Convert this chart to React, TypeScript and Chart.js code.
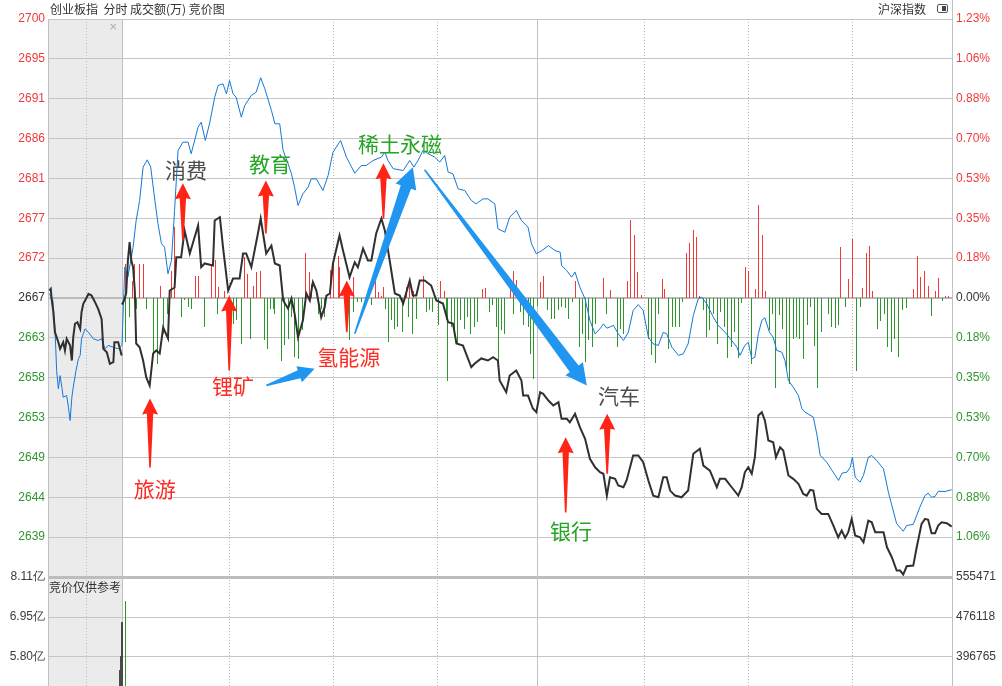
import React, { useEffect, useRef } from 'react';
import { Chart, registerables } from 'chart.js';

Chart.register(...registerables);

// ================= DATA =================
const PREV_CLOSE = 2667.2; // reference level of 创业板指 (0.00%)
const PCT_SPAN = 1.2298; // half range of the percent axis
const AUCTION_FROM = -21.4; // left edge of the 竞价 zone, in session minutes
const SESSION_TO = 240; // 15:00

const priceTickLabels = ['2700', '2695', '2691', '2686', '2681', '2677', '2672', '2667', '2663', '2658', '2653', '2649', '2644', '2639', ''];
const pctTickLabels = ['1.23%', '1.06%', '0.88%', '0.70%', '0.53%', '0.35%', '0.18%', '0.00%', '0.18%', '0.35%', '0.53%', '0.70%', '0.88%', '1.06%', ''];
const volTickLabels = ['8.11亿', '6.95亿', '5.80亿', '4.64亿', '3.48亿', '2.32亿', '1.16亿', ''];
const volRightTickLabels = ['555471', '476118', '396765', '317412', '238059', '158706', '79353', ''];
const VOL_MAX = 8.114; // 亿
const VOL_RIGHT_MAX = 555471;

const dottedMinutes = [-10.5, 31, 61, 91, 151, 181, 211];
const solidMinutes = [0, 120];

// 创业板指 during call auction: [minute, price]
const auctionIndexLine: [number, number][] = [
  [-21.0, 2668.08], [-20.6, 2668.28], [-20.3, 2666.91], [-19.9, 2665.73], [-19.4, 2663.18], [-18.4, 2662.0],
  [-17.9, 2661.23], [-17.0, 2662.0], [-16.5, 2661.03], [-16.0, 2662.4], [-15.0, 2661.61], [-14.5, 2659.85],
  [-14.1, 2662.59], [-13.6, 2664.17], [-12.9, 2664.35], [-12.1, 2663.58], [-11.7, 2665.53], [-11.2, 2666.52],
  [-10.4, 2667.11], [-9.7, 2667.69], [-8.8, 2667.49], [-7.8, 2666.71], [-6.9, 2665.93], [-5.9, 2664.75],
  [-5.4, 2661.23], [-4.4, 2660.83], [-3.5, 2659.46], [-2.5, 2659.65], [-2.2, 2662.0], [-1.1, 2662.0], [-0.1, 2660.44],
];

// 沪深指数 during call auction: [minute, pct]
const auctionCompareLine: [number, number][] = [
  [-21.0, 0.019], [-20.0, -0.011], [-19.4, -0.129], [-18.9, -0.32], [-18.4, -0.4], [-17.9, -0.342], [-17.4, -0.393],
  [-17.0, -0.437], [-16.0, -0.43], [-15.5, -0.481], [-15.0, -0.54], [-14.5, -0.437], [-14.1, -0.393], [-13.3, -0.32],
  [-12.6, -0.268], [-12.1, -0.253], [-11.7, -0.18], [-10.7, -0.136], [-9.7, -0.151], [-8.3, -0.18], [-6.9, -0.187],
  [-5.9, -0.18], [-4.9, -0.224], [-4.0, -0.209], [-2.5, -0.217], [-1.1, -0.224], [-0.1, -0.209],
];

// 创业板指 intraday: [minute, price]
const indexLine: [number, number][] = [
  [0, 2666.44], [0.6, 2666.91], [1.2, 2667.73], [1.7, 2671.61], [2.2, 2673.76], [2.7, 2671.61], [3.2, 2670.82], [3.7, 2668.08],
  [4.1, 2661.85], [5.1, 2661.41], [6.1, 2659.85], [7.0, 2657.89], [8.0, 2656.91], [9.0, 2660.67], [9.9, 2661.03], [10.9, 2660.67],
  [11.9, 2663.73], [13.3, 2662.44], [13.8, 2668.08], [15.2, 2668.43], [15.7, 2672.0], [17.1, 2672.0], [18.1, 2675.14], [19.6, 2672.43],
  [22.0, 2675.73], [22.9, 2670.82], [23.9, 2671.26], [26.3, 2671.02], [26.8, 2676.31], [28.3, 2676.7], [29.2, 2673.17], [30.7, 2668.08],
  [32.1, 2669.49], [34.0, 2669.49], [35.0, 2672.43], [35.9, 2672.43], [37.4, 2670.82], [39.3, 2674.79], [40.1, 2676.55], [41.7, 2672.43],
  [43.2, 2673.37], [44.2, 2671.26], [45.6, 2671.02], [46.6, 2666.91], [48.0, 2665.97], [49.0, 2667.14], [49.9, 2665.38], [50.9, 2662.59],
  [52.3, 2664.55], [53.3, 2667.73], [54.3, 2666.91], [55.2, 2669.06], [56.2, 2668.08], [57.6, 2664.94], [58.6, 2666.12], [59.1, 2667.49],
  [60.1, 2667.73], [61.0, 2671.26], [62.9, 2674.55], [63.9, 2672.79], [65.8, 2669.65], [67.3, 2671.41], [68.2, 2670.82], [69.7, 2673.02],
  [71.1, 2671.61], [72.1, 2671.61], [73.5, 2674.79], [75.0, 2676.55], [76.0, 2675.14], [77.4, 2671.61], [78.9, 2667.73], [80.3, 2667.49],
  [81.3, 2666.55], [83.2, 2669.26], [84.1, 2667.49], [85.1, 2667.49], [86.1, 2669.26], [87.5, 2669.26], [89.4, 2668.67], [90.9, 2666.91],
  [92.8, 2666.55], [94.3, 2664.35], [95.7, 2664.2], [96.7, 2661.85], [98.6, 2661.61], [101.0, 2659.06], [102.0, 2659.5], [103.9, 2660.09],
  [105.8, 2659.85], [107.3, 2660.24], [108.7, 2659.85], [109.2, 2657.5], [111.1, 2656.12], [112.1, 2658.09], [114.0, 2658.67], [115.5, 2657.5],
  [116.0, 2655.73], [117.4, 2655.73], [118.8, 2654.21], [119.8, 2653.77], [120.9, 2656.12], [121.8, 2655.93], [123.3, 2655.15], [124.7, 2654.56],
  [126.2, 2654.95], [127.1, 2652.99], [128.6, 2652.99], [129.5, 2652.59], [131.0, 2653.58], [132.4, 2652.01], [133.9, 2650.64], [135.3, 2648.29],
  [136.8, 2647.3], [138.2, 2646.71], [139.2, 2646.53], [140.2, 2643.97], [141.1, 2646.13], [142.6, 2645.94], [143.5, 2645.15], [145.0, 2644.95],
  [145.9, 2645.74], [147.8, 2648.68], [149.3, 2648.68], [150.7, 2647.89], [152.2, 2645.74], [153.6, 2643.97], [155.1, 2643.77], [156.5, 2646.13],
  [157.5, 2646.13], [158.5, 2644.56], [159.9, 2643.97], [161.8, 2643.77], [163.7, 2644.56], [165.2, 2648.88], [167.1, 2649.47], [168.1, 2647.5],
  [170.0, 2646.91], [172.0, 2644.95], [172.9, 2645.94], [174.4, 2645.94], [176.3, 2644.95], [178.2, 2643.97], [179.2, 2644.95], [180.1, 2646.71],
  [181.1, 2647.3], [182.1, 2646.53], [183.0, 2648.48], [184.0, 2653.38], [185.0, 2653.77], [185.9, 2652.79], [186.9, 2650.44], [188.3, 2650.24],
  [189.1, 2648.48], [190.3, 2649.65], [191.2, 2649.27], [192.7, 2646.33], [194.1, 2645.94], [195.6, 2645.35], [197.0, 2644.17], [198.0, 2643.97],
  [199.0, 2644.64], [199.9, 2644.56], [200.9, 2642.41], [202.3, 2641.82], [204.2, 2641.82], [205.7, 2640.45], [207.1, 2639.07], [208.1, 2639.86],
  [209.1, 2639.0], [210.0, 2639.66], [211.0, 2641.23], [212.0, 2639.27], [213.4, 2639.07], [214.4, 2638.48], [215.8, 2641.03], [216.8, 2640.83],
  [217.8, 2639.66], [220.2, 2639.66], [221.2, 2637.89], [222.6, 2636.72], [224.0, 2635.15], [225.0, 2635.15], [225.9, 2634.68], [226.9, 2635.66],
  [228.8, 2635.74], [229.8, 2637.89], [231.2, 2640.65], [232.2, 2641.23], [233.1, 2641.12], [234.1, 2639.54], [235.1, 2639.54], [236.0, 2640.45],
  [237.0, 2640.83], [238.5, 2640.72], [239.9, 2640.33],
];

// 沪深指数 intraday: [minute, pct]
const compareLine: [number, number][] = [
  [0, -0.209], [0.8, 0.136], [1.7, 0.092], [3.2, 0.224], [4.1, 0.342], [5.1, 0.43], [6.1, 0.577], [7.3, 0.609], [8.3, 0.577],
  [9.5, 0.43], [10.4, 0.328], [11.4, 0.24], [12.3, 0.224], [13.3, 0.107], [14.3, 0.165], [15.2, 0.386], [16.2, 0.65], [17.6, 0.687],
  [19.1, 0.687], [20.0, 0.636], [22.0, 0.753], [22.9, 0.775], [24.1, 0.694], [25.4, 0.775], [26.8, 0.885], [27.8, 0.937], [29.2, 0.944],
  [30.2, 0.9], [31.1, 0.959], [32.1, 0.9], [33.0, 0.885], [34.5, 0.797], [35.5, 0.849], [37.4, 0.893], [38.8, 0.907], [40.1, 0.971],
  [41.3, 0.922], [43.2, 0.827], [44.2, 0.768], [45.6, 0.768], [46.6, 0.65], [48.0, 0.592], [49.0, 0.547], [49.9, 0.488], [50.9, 0.408],
  [52.3, 0.459], [53.8, 0.488], [54.7, 0.525], [56.2, 0.525], [58.1, 0.474], [59.6, 0.54], [61.0, 0.643], [63.2, 0.694], [64.9, 0.621],
  [67.3, 0.55], [69.2, 0.584], [70.6, 0.584], [72.6, 0.606], [75.0, 0.621], [76.0, 0.643], [76.9, 0.606], [78.4, 0.57], [81.3, 0.562],
  [83.2, 0.606], [84.4, 0.577], [85.6, 0.606], [87.0, 0.65], [88.5, 0.636], [90.4, 0.621], [91.9, 0.599], [93.3, 0.628], [94.3, 0.555],
  [95.7, 0.547], [97.2, 0.481], [99.1, 0.474], [101.0, 0.43], [102.4, 0.415], [104.4, 0.437], [105.8, 0.437], [107.8, 0.415], [108.7, 0.305],
  [110.7, 0.29], [112.1, 0.356], [114.0, 0.386], [115.5, 0.342], [117.4, 0.312], [118.4, 0.239], [119.8, 0.195], [121.4, 0.209], [123.3, 0.231],
  [125.2, 0.209], [126.7, 0.202], [127.1, 0.143], [128.6, 0.121], [130.0, 0.092], [131.0, 0.114], [132.4, 0.048], [133.9, -0.004], [135.3, -0.099],
  [136.8, -0.158], [138.2, -0.136], [139.2, -0.114], [140.2, -0.133], [142.1, -0.121], [143.5, -0.158], [145.0, -0.187], [146.4, -0.151],
  [147.8, -0.055], [149.3, -0.029], [150.7, -0.055], [152.2, -0.173], [153.6, -0.202], [155.1, -0.209], [156.5, -0.151], [157.5, -0.158],
  [159.0, -0.217], [160.9, -0.253], [162.3, -0.246], [163.7, -0.202], [165.2, -0.077], [166.6, -0.004], [167.6, 0.004], [169.1, -0.026],
  [171.0, -0.085], [172.4, -0.121], [174.4, -0.151], [176.3, -0.187], [177.8, -0.217], [178.7, -0.253], [180.1, -0.209], [181.1, -0.195],
  [182.1, -0.268], [183.0, -0.261], [184.0, -0.158], [185.0, -0.099], [185.9, -0.087], [187.2, -0.151], [188.3, -0.173], [189.3, -0.231],
  [190.8, -0.239], [191.7, -0.276], [192.7, -0.364], [194.1, -0.393], [195.6, -0.43], [196.6, -0.488], [197.5, -0.503], [199.9, -0.525],
  [200.9, -0.599], [201.9, -0.694], [203.8, -0.724], [205.3, -0.76], [207.2, -0.804], [208.2, -0.772], [209.6, -0.768], [210.6, -0.746],
  [211.2, -0.702], [212.0, -0.79], [213.4, -0.812], [214.4, -0.782], [215.8, -0.702], [216.8, -0.694], [218.2, -0.716], [220.2, -0.753],
  [221.6, -0.856], [224.0, -0.995], [225.9, -1.028], [226.9, -1.003], [228.8, -0.998], [230.7, -0.922], [232.2, -0.871], [233.1, -0.86],
  [234.1, -0.878], [235.1, -0.875], [236.0, -0.852], [238.0, -0.853], [239.9, -0.845],
];

// red / green strength bars around the 0.00% line: [minute, value in % units]
const strengthUp: [number, number][] = [
  [1.0, 0.151], [2.9, 0.077], [3.7, 0.152], [5.1, 0.152], [6.1, 0.152], [11.1, 0.051], [14.3, 0.121], [15.2, 0.312], [21.3, 0.095],
  [22.0, 0.099], [26.0, 0.143], [27.1, 0.168], [28.0, 0.048], [29.7, 0.033], [35.3, 0.18], [36.4, 0.107], [37.9, 0.055], [38.8, 0.114],
  [40.1, 0.121], [53.0, 0.197], [54.3, 0.114], [54.7, 0.063], [60.2, 0.124], [61.1, 0.173], [62.5, 0.187], [63.0, 0.136], [66.9, 0.092],
  [73.2, 0.077], [74.1, 0.026], [75.0, 0.011], [75.6, 0.048], [82.3, 0.048], [83.1, 0.077], [84.2, 0.033], [87.1, 0.095], [92.2, 0.073],
  [93.2, 0.03], [104.3, 0.041], [105.2, 0.045], [112.2, 0.051], [113.2, 0.121], [114.1, 0.08], [121.1, 0.07], [122.0, 0.099], [131.2, 0.077],
  [139.2, 0.089], [141.3, 0.036], [146.2, 0.074], [147.1, 0.342], [148.1, 0.276], [149.0, 0.114], [150.3, 0.015], [156.2, 0.085], [157.0, 0.041],
  [163.3, 0.197], [164.2, 0.243], [165.2, 0.301], [166.2, 0.268], [167.1, 0.011], [180.2, 0.136], [181.1, 0.117], [183.1, 0.041], [184.1, 0.412],
  [185.2, 0.276], [186.2, 0.033], [207.9, 0.227], [210.0, 0.082], [211.1, 0.261], [214.0, 0.045], [215.2, 0.197], [216.1, 0.231], [217.1, 0.03],
  [229.0, 0.041], [230.0, 0.187], [231.0, 0.092], [232.0, 0.121], [233.2, 0.051], [235.1, 0.03], [236.1, 0.089], [238.2, 0.007], [239.1, 0.007],
];
const strengthDown: [number, number][] = [
  [1.0, -0.195], [2.2, -0.085], [4.1, -0.048], [7.0, -0.048], [9.0, -0.246], [10.2, -0.29], [11.9, -0.158], [13.1, -0.07], [17.1, -0.085],
  [18.1, -0.011], [19.1, -0.041], [20.0, -0.048], [23.9, -0.129], [27.6, -0.07], [32.1, -0.114], [33.0, -0.099], [34.5, -0.202], [37.2, -0.18],
  [41.1, -0.187], [42.0, -0.224], [43.0, -0.048], [43.7, -0.048], [44.2, -0.07], [46.1, -0.276], [47.1, -0.209], [48.0, -0.18], [49.0, -0.085],
  [49.9, -0.261], [50.9, -0.268], [52.3, -0.143], [56.7, -0.07], [57.6, -0.048], [58.6, -0.085], [65.8, -0.187], [66.8, -0.063], [68.2, -0.019],
  [69.2, -0.019], [72.1, -0.033], [76.1, -0.048], [77.1, -0.195], [77.9, -0.099], [78.9, -0.136], [79.8, -0.129], [81.0, -0.151], [82.7, -0.085],
  [84.1, -0.158], [85.1, -0.092], [88.0, -0.063], [89.0, -0.055], [89.9, -0.063], [91.4, -0.121], [93.8, -0.099], [94.1, -0.364], [95.2, -0.129],
  [96.2, -0.143], [97.0, -0.202], [97.9, -0.099], [98.9, -0.136], [99.8, -0.085], [100.8, -0.158], [101.8, -0.129], [102.9, -0.107], [106.3, -0.063],
  [107.0, -0.033], [108.2, -0.129], [108.9, -0.276], [109.7, -0.143], [110.7, -0.158], [113.1, -0.07], [115.3, -0.063], [116.2, -0.121], [117.4, -0.129],
  [118.1, -0.246], [119.1, -0.356], [120.0, -0.035], [123.0, -0.055], [124.2, -0.092], [125.2, -0.092], [126.2, -0.055], [127.1, -0.041], [128.3, -0.043],
  [129.1, -0.092], [130.2, -0.019], [132.2, -0.217], [133.1, -0.158], [134.0, -0.283], [134.8, -0.187], [136.0, -0.217], [137.0, -0.114], [140.2, -0.07],
  [143.2, -0.217], [144.0, -0.136], [145.0, -0.158], [152.2, -0.18], [153.2, -0.253], [154.3, -0.286], [155.1, -0.07], [158.0, -0.224], [159.1, -0.129],
  [160.1, -0.129], [161.1, -0.129], [162.0, -0.019], [168.1, -0.055], [169.1, -0.173], [170.0, -0.143], [171.0, -0.07], [172.3, -0.202], [173.2, -0.063],
  [174.2, -0.129], [175.1, -0.264], [176.1, -0.217], [177.0, -0.151], [178.2, -0.264], [179.2, -0.021], [182.1, -0.29], [187.2, -0.143], [188.0, -0.07],
  [189.1, -0.398], [190.0, -0.077], [191.0, -0.136], [192.0, -0.312], [193.0, -0.378], [194.1, -0.18], [195.1, -0.173], [196.0, -0.18], [197.0, -0.268],
  [198.2, -0.121], [199.1, -0.041], [200.2, -0.212], [201.1, -0.396], [202.2, -0.151], [204.3, -0.07], [205.2, -0.129], [206.2, -0.133], [207.1, -0.121],
  [209.1, -0.041], [212.4, -0.32], [213.5, -0.041], [218.5, -0.136], [219.3, -0.102], [220.4, -0.07], [221.4, -0.214], [222.6, -0.237], [223.4, -0.18],
  [224.6, -0.261], [225.6, -0.052], [226.7, -0.043], [234.1, -0.078], [237.2, -0.015], [240.0, -0.015],
];

// 成交额 (亿): auction prints and the first session minute
const auctionVolume: [number, number][] = [[-0.8, 5.42], [-0.5, 5.83], [-0.2, 6.82], [0.0, 6.82]];
const sessionVolume: [number, number][] = [[1.0, 7.42]];

// annotations: red up arrows [minute, tip price, tail price]
const redArrows: [number, number, number][] = [
  [8.1, 2655.38, 2647.27], [17.6, 2680.7, 2673.96], [31.0, 2667.49, 2658.67], [41.6, 2681.02, 2674.79],
  [65.0, 2669.26, 2663.18], [75.6, 2683.05, 2676.51], [128.3, 2650.83, 2641.97], [140.3, 2653.58, 2646.53],
];
// blue arrows [from minute, from price, to minute, to price]
const blueArrows: [number, number, number, number][] = [
  [41.7, 2656.91, 55.7, 2658.87], [67.3, 2662.99, 84.1, 2682.58], [87.5, 2682.28, 134.4, 2656.91],
];
// sector labels [text, minute, price, tone]
const sectorLabels: [string, number, number, string][] = [
  ['消费', 18.5, 2682.19, 'gray'], ['教育', 42.8, 2682.9, 'green'], ['稀土永磁', 80.4, 2685.25, 'green'],
  ['锂矿', 32.1, 2656.91, 'red'], ['氢能源', 65.6, 2660.32, 'red'], ['旅游', 9.5, 2644.8, 'red'],
  ['汽车', 143.7, 2655.73, 'gray'], ['银行', 129.8, 2639.86, 'green'],
];

// ================= STYLE =================
const RED = '#f03a3a';
const GREEN = '#2f952f';
const DARK = '#333333';
const GRID = '#c6c6c6';
const AUCTION_BG = '#ebebeb';
const TONES: Record<string, string> = { red: '#ff2a22', green: '#24a524', gray: '#4d4d4d' };
const TICK_FONT = { family: "'Liberation Sans', Arial, sans-serif", size: 12 };

const priceMin = PREV_CLOSE * (1 - PCT_SPAN / 100);
const priceMax = PREV_CLOSE * (1 + PCT_SPAN / 100);

const toXY = (arr: [number, number][]) => arr.map(([x, y]) => ({ x, y }));

const evenTicks = (n: number) => (scale: any) => {
  const { min, max } = scale;
  scale.ticks = Array.from({ length: n }, (_, i) => ({ value: min + (i * (max - min)) / (n - 1) }));
};

const toneByRow = (row: number) => (row < 7 ? RED : row === 7 ? DARK : GREEN);

function drawFrame(chart: any, fromTop: number, bottom: number) {
  const { ctx, chartArea, scales } = chart;
  const x = scales.x;
  ctx.save();
  ctx.lineWidth = 1;
  ctx.strokeStyle = '#b8b8b8';
  ctx.setLineDash([1, 2]);
  dottedMinutes.forEach((m) => {
    const px = Math.round(x.getPixelForValue(m)) + 0.5;
    ctx.beginPath();
    ctx.moveTo(px, chartArea.top);
    ctx.lineTo(px, bottom);
    ctx.stroke();
  });
  ctx.setLineDash([]);
  ctx.strokeStyle = '#c0c0c0';
  solidMinutes.forEach((m) => {
    const px = Math.round(x.getPixelForValue(m)) + 0.5;
    ctx.beginPath();
    ctx.moveTo(px, chartArea.top);
    ctx.lineTo(px, bottom);
    ctx.stroke();
  });
  ctx.beginPath();
  ctx.moveTo(chartArea.left + 0.5, chartArea.top);
  ctx.lineTo(chartArea.left + 0.5, bottom);
  ctx.moveTo(chartArea.right + 0.5, fromTop);
  ctx.lineTo(chartArea.right + 0.5, bottom);
  ctx.stroke();
  ctx.restore();
}

function fillAuction(chart: any, bottom: number) {
  const { ctx, chartArea, scales } = chart;
  const x0 = scales.x.getPixelForValue(AUCTION_FROM);
  const x1 = scales.x.getPixelForValue(0);
  ctx.save();
  ctx.fillStyle = '#ffffff';
  ctx.fillRect(chartArea.left, chartArea.top, chartArea.right - chartArea.left, bottom - chartArea.top);
  ctx.fillStyle = AUCTION_BG;
  ctx.fillRect(x0, chartArea.top, x1 - x0, bottom - chartArea.top);
  ctx.restore();
}

// snap 1px bars onto whole device pixels so they stay crisp
const crispBars = {
  id: 'crispBars',
  afterDatasetsUpdate(chart: any) {
    chart.data.datasets.forEach((ds: any, i: number) => {
      const meta = chart.getDatasetMeta(i);
      if (meta.type !== 'bar') return;
      meta.data.forEach((el: any) => {
        el.x = Math.floor(el.x) + 0.5;
        el.y = Math.round(el.y);
        el.base = Math.round(el.base);
      });
    });
  },
};

function drawRedArrow(ctx: any, x: number, yTip: number, yTail: number) {
  const headH = 16;
  const headW = 8;
  const shaftW = 3.2;
  const tailW = 0.8;
  const yBase = yTip + headH;
  ctx.beginPath();
  ctx.moveTo(x, yTip);
  ctx.lineTo(x + headW, yBase);
  ctx.lineTo(x + shaftW, yBase - 1);
  ctx.lineTo(x + tailW, yTail);
  ctx.lineTo(x - tailW, yTail);
  ctx.lineTo(x - shaftW, yBase - 1);
  ctx.lineTo(x - headW, yBase);
  ctx.closePath();
  ctx.fill();
}

function drawBlueArrow(ctx: any, x1: number, y1: number, x2: number, y2: number) {
  const dx = x2 - x1;
  const dy = y2 - y1;
  const len = Math.hypot(dx, dy);
  const ux = dx / len;
  const uy = dy / len;
  const nx = -uy;
  const ny = ux;
  const headL = Math.min(21, len * 0.32);
  const headW = headL * 0.52;
  const shaftW = headL * 0.26;
  const tailW = 0.8;
  const bx = x2 - ux * headL;
  const by = y2 - uy * headL;
  ctx.beginPath();
  ctx.moveTo(x1 + nx * tailW, y1 + ny * tailW);
  ctx.lineTo(bx + nx * shaftW, by + ny * shaftW);
  ctx.lineTo(bx + nx * headW, by + ny * headW);
  ctx.lineTo(x2, y2);
  ctx.lineTo(bx - nx * headW, by - ny * headW);
  ctx.lineTo(bx - nx * shaftW, by - ny * shaftW);
  ctx.lineTo(x1 - nx * tailW, y1 - ny * tailW);
  ctx.closePath();
  ctx.fill();
}

const mainFramePlugin = {
  id: 'mainFrame',
  beforeDraw(chart: any) {
    fillAuction(chart, chart.chartArea.bottom);
  },
  beforeDatasetsDraw(chart: any) {
    drawFrame(chart, 0, chart.chartArea.bottom);
  },
  afterDatasetsDraw(chart: any) {
    const { ctx, scales } = chart;
    const x = scales.x;
    const y = scales.yPrice;
    ctx.save();
    ctx.fillStyle = '#ff2416';
    redArrows.forEach(([m, tip, tail]) => {
      drawRedArrow(ctx, x.getPixelForValue(m), y.getPixelForValue(tip), y.getPixelForValue(tail));
    });
    ctx.fillStyle = '#2196f0';
    blueArrows.forEach(([m1, p1, m2, p2]) => {
      drawBlueArrow(ctx, x.getPixelForValue(m1), y.getPixelForValue(p1), x.getPixelForValue(m2), y.getPixelForValue(p2));
    });
    ctx.font = "21px 'Noto Sans CJK SC', sans-serif";
    ctx.textAlign = 'center';
    ctx.textBaseline = 'middle';
    sectorLabels.forEach(([text, m, p, tone]) => {
      ctx.fillStyle = TONES[tone];
      ctx.fillText(text, x.getPixelForValue(m), y.getPixelForValue(p));
    });
    ctx.restore();
  },
};

const volFramePlugin = {
  id: 'volFrame',
  beforeDraw(chart: any) {
    fillAuction(chart, chart.height);
  },
  beforeDatasetsDraw(chart: any) {
    drawFrame(chart, 0, chart.height);
  },
};

const xScale = {
  type: 'linear',
  min: AUCTION_FROM,
  max: SESSION_TO,
  display: false,
  offset: false,
};

const barStyle = { barThickness: 1, grouped: false, inflateAmount: 0, borderWidth: 0 };

function mainConfig(): any {
  return {
    type: 'line',
    data: {
      datasets: [
        { label: '创业板指(竞价)', data: toXY(auctionIndexLine), yAxisID: 'yPrice', borderColor: '#303030', borderWidth: 2, pointRadius: 0 },
        { label: '创业板指', data: toXY(indexLine), yAxisID: 'yPrice', borderColor: '#303030', borderWidth: 2, pointRadius: 0 },
        { label: '沪深指数(竞价)', data: toXY(auctionCompareLine), yAxisID: 'yPct', borderColor: '#1479d6', borderWidth: 1, pointRadius: 0 },
        { label: '沪深指数', data: toXY(compareLine), yAxisID: 'yPct', borderColor: '#1479d6', borderWidth: 1, pointRadius: 0 },
        { type: 'bar', label: '涨', data: toXY(strengthUp), yAxisID: 'yPct', backgroundColor: RED, ...barStyle },
        { type: 'bar', label: '跌', data: toXY(strengthDown), yAxisID: 'yPct', backgroundColor: GREEN, ...barStyle },
      ],
    },
    options: {
      responsive: false,
      maintainAspectRatio: false,
      animation: false,
      devicePixelRatio: 1,
      events: [],
      layout: { padding: { top: 19, bottom: 13, left: 0, right: 0 } },
      plugins: { legend: { display: false }, tooltip: { enabled: false }, title: { display: false } },
      scales: {
        x: xScale,
        yPrice: {
          type: 'linear',
          position: 'left',
          min: priceMin,
          max: priceMax,
          afterBuildTicks: evenTicks(15),
          afterFit: (s: any) => { s.width = 48; },
          border: { display: false },
          grid: {
            drawTicks: false,
            color: (c: any) => (c.index === 0 ? 'rgba(0,0,0,0)' : c.index === 7 ? '#b9b9b9' : GRID),
            lineWidth: (c: any) => (c.index === 7 ? 2 : 1),
          },
          ticks: {
            autoSkip: false,
            padding: 3,
            font: TICK_FONT,
            color: (c: any) => toneByRow(14 - c.index),
            callback: (_v: any, i: number) => priceTickLabels[14 - i],
          },
        },
        yPct: {
          type: 'linear',
          position: 'right',
          min: -PCT_SPAN,
          max: PCT_SPAN,
          afterBuildTicks: evenTicks(15),
          afterFit: (s: any) => { s.width = 50; },
          border: { display: false },
          grid: { display: false, drawTicks: false },
          ticks: {
            autoSkip: false,
            padding: 4,
            font: TICK_FONT,
            color: (c: any) => toneByRow(14 - c.index),
            callback: (_v: any, i: number) => pctTickLabels[14 - i],
          },
        },
      },
    },
    plugins: [crispBars, mainFramePlugin],
  };
}

function volConfig(): any {
  return {
    type: 'bar',
    data: {
      datasets: [
        { label: '竞价成交额', data: toXY(auctionVolume), yAxisID: 'yVol', backgroundColor: '#4a4a4a', ...barStyle },
        { label: '成交额', data: toXY(sessionVolume), yAxisID: 'yVol', backgroundColor: GREEN, ...barStyle },
      ],
    },
    options: {
      responsive: false,
      maintainAspectRatio: false,
      animation: false,
      devicePixelRatio: 1,
      events: [],
      layout: { padding: { top: 17, bottom: 13, left: 0, right: 0 } },
      plugins: { legend: { display: false }, tooltip: { enabled: false } },
      scales: {
        x: xScale,
        yVol: {
          type: 'linear',
          position: 'left',
          min: 0,
          max: VOL_MAX,
          afterBuildTicks: evenTicks(8),
          afterFit: (s: any) => { s.width = 48; },
          border: { display: false },
          grid: {
            drawTicks: false,
            color: (c: any) => (c.index === 7 ? '#bdbdbd' : GRID),
            lineWidth: (c: any) => (c.index === 7 ? 3 : 1),
          },
          ticks: {
            autoSkip: false,
            padding: 3,
            font: TICK_FONT,
            color: '#3a3a3a',
            callback: (_v: any, i: number) => volTickLabels[7 - i],
          },
        },
        yVolR: {
          type: 'linear',
          position: 'right',
          min: 0,
          max: VOL_RIGHT_MAX,
          afterBuildTicks: evenTicks(8),
          afterFit: (s: any) => { s.width = 50; },
          border: { display: false },
          grid: { display: false, drawTicks: false },
          ticks: {
            autoSkip: false,
            padding: 4,
            font: TICK_FONT,
            color: '#3a3a3a',
            callback: (_v: any, i: number) => volRightTickLabels[7 - i],
          },
        },
      },
    },
    plugins: [crispBars, volFramePlugin],
  };
}

export default function App() {
  const mainRef = useRef<HTMLCanvasElement>(null);
  const volRef = useRef<HTMLCanvasElement>(null);

  useEffect(() => {
    const main = new Chart(mainRef.current as HTMLCanvasElement, mainConfig());
    const vol = new Chart(volRef.current as HTMLCanvasElement, volConfig());
    return () => {
      main.destroy();
      vol.destroy();
    };
  }, []);

  const cjk = "'Noto Sans CJK SC', sans-serif";
  return (
    <div style={{ position: 'fixed', left: 0, top: 0, width: 1002, height: 686, overflow: 'hidden', background: '#ffffff' }}>
      <canvas ref={mainRef} width={1002} height={590} style={{ position: 'absolute', left: 0, top: 0, width: 1002, height: 590 }} />
      <canvas ref={volRef} width={1002} height={310} style={{ position: 'absolute', left: 0, top: 560, width: 1002, height: 310 }} />
      <div style={{ position: 'absolute', left: 50, top: 1, fontFamily: cjk, fontSize: 12, lineHeight: '16px', color: '#333', whiteSpace: 'pre' }}>
        创业板指  分时 成交额(万) 竞价图
      </div>
      <div style={{ position: 'absolute', left: 878, top: 1, fontFamily: cjk, fontSize: 12, lineHeight: '16px', color: '#333' }}>沪深指数</div>
      <div style={{ position: 'absolute', left: 937, top: 4, width: 9, height: 7, border: '1.5px solid #555', borderRadius: 2 }}>
        <div style={{ position: 'absolute', right: 1, top: 1, width: 4, height: 5, background: '#444' }} />
      </div>
      <div style={{ position: 'absolute', left: 109, top: 21, fontFamily: "'DejaVu Sans', sans-serif", fontSize: 10, lineHeight: '12px', color: '#aaa' }}>×</div>
      <div style={{ position: 'absolute', left: 49, top: 579, fontFamily: cjk, fontSize: 12, lineHeight: '16px', color: '#333' }}>竞价仅供参考</div>
    </div>
  );
}
